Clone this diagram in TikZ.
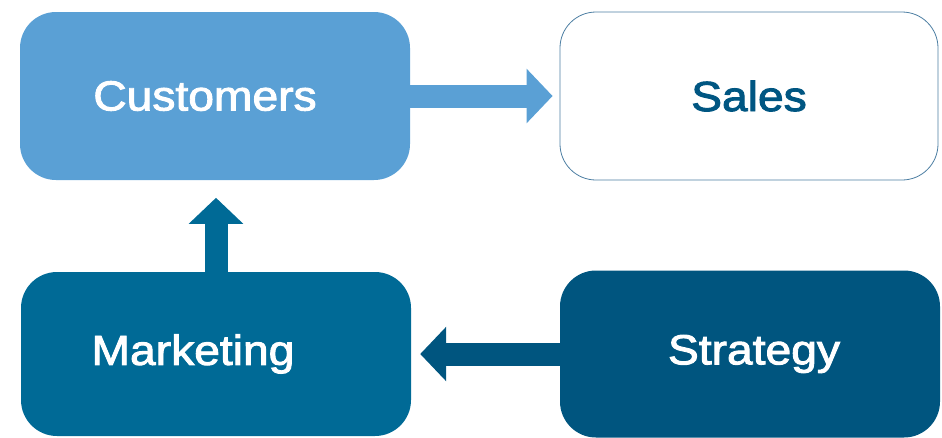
\documentclass[tikz,border=0pt]{standalone}
\usepackage{fontspec}
\setmainfont{Liberation Sans}[FakeBold=2.2,FakeStretch=1.1]
\usetikzlibrary{arrows.meta}

\definecolor{custblue}{HTML}{5AA0D5}
\definecolor{mktblue}{HTML}{006A96}
\definecolor{stratblue}{HTML}{00557F}
\definecolor{salesline}{HTML}{4D7FA3}
\definecolor{salestext}{HTML}{005682}

\begin{document}
\begin{tikzpicture}[
			x=1pt, y=-1pt,
			box/.style = {rounded corners=36pt, minimum width=390pt, minimum height=168pt,
				font=\fontsize{42}{50}\selectfont, inner sep=0pt},
			arrow/.style = {line width=23pt, -{Triangle[width=53pt,length=26pt]}}
		]
		\useasboundingbox (0,0) rectangle (942,437);
		\node[box, fill=custblue, text=white] (cust) at (215,96) {Customers\kern20pt\null};
		\node[box, fill=white, draw=salesline, line width=0.8pt, text=salestext,
			minimum width=378pt] (sales) at (749,96) {Sales};
		\node[box, fill=mktblue, text=white, minimum height=164pt] (mkt) at (216,354) {Marketing\kern46pt\null};
		\node[box, fill=stratblue, text=white, minimum width=380pt, minimum height=167pt]
			(strat) at (750,354) {\kern8pt Strategy};
		% block arrows between the boxes
		\draw[arrow, custblue] (cust.east) -- ([xshift=-7pt]sales.west);
		\draw[arrow, mktblue] (mkt.north) -- ++(0,-74);
		\draw[arrow, stratblue] (strat.west) -- ([xshift=9pt]mkt.east);
	\end{tikzpicture}
\end{document}
